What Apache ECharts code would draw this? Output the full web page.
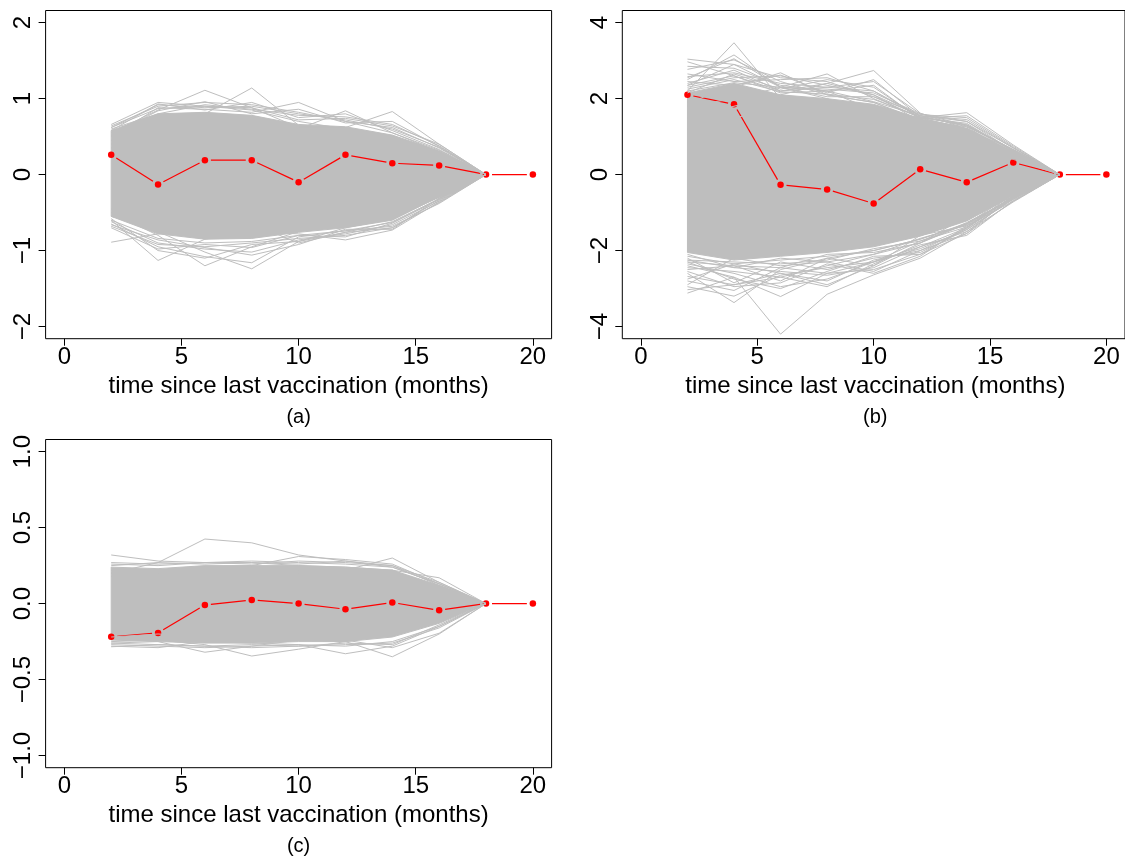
<!DOCTYPE html>
<html>
<head>
<meta charset="utf-8">
<script src="https://cdn.jsdelivr.net/npm/echarts@6/dist/echarts.min.js"></script>
<style>
html,body{margin:0;padding:0;background:#fff;}
#chart{width:1125px;height:858px;}
</style>
</head>
<body>
<div id="chart"></div>
<script>
// ---------- data ----------
const months = [2, 4, 6, 8, 10, 12, 14, 16, 18];
const redMonths = [2, 4, 6, 8, 10, 12, 14, 16, 18, 20];

const redA = [0.26, -0.13, 0.19, 0.19, -0.10, 0.26, 0.15, 0.12, 0, 0];
const redB = [2.10, 1.85, -0.27, -0.39, -0.76, 0.14, -0.20, 0.32, 0, 0];
const redC = [-0.218, -0.193, -0.009, 0.024, 0.0, -0.037, 0.007, -0.044, 0, 0];

// dense grey core of the simulated curves (upper / lower edge)
const bandUpperA = [0.58, 0.80, 0.82, 0.78, 0.66, 0.63, 0.52, 0.31, 0];
const bandLowerA = [-0.55, -0.78, -0.85, -0.84, -0.76, -0.70, -0.60, -0.29, 0];
const bandUpperB = [2.15, 2.40, 2.10, 2.00, 1.85, 1.48, 1.22, 0.60, 0];
const bandLowerB = [-2.05, -2.25, -2.15, -2.05, -1.90, -1.62, -1.22, -0.56, 0];
const bandUpperC = [0.24, 0.23, 0.25, 0.25, 0.25, 0.24, 0.22, 0.12, 0];
const bandLowerC = [-0.24, -0.25, -0.26, -0.26, -0.25, -0.25, -0.22, -0.13, 0];

// individual curves visible at the fringes
const greyA = [
  [0.66, 0.95, 0.90, 0.85, 0.70, 0.60, 0.50, 0.30, 0],
  [0.55, 0.85, 1.11, 0.88, 0.62, 0.52, 0.40, 0.25, 0],
  [0.45, 0.72, 0.80, 1.14, 0.65, 0.55, 0.45, 0.28, 0],
  [0.50, 0.88, 0.86, 0.82, 0.95, 0.70, 0.55, 0.32, 0],
  [0.40, 0.65, 0.75, 0.70, 0.60, 0.84, 0.55, 0.30, 0],
  [0.35, 0.60, 0.70, 0.65, 0.62, 0.62, 0.83, 0.40, 0],
  [0.62, 0.92, 0.88, 0.90, 0.80, 0.72, 0.60, 0.36, 0],
  [0.60, 0.80, 0.92, 0.86, 0.78, 0.76, 0.66, 0.38, 0],
  [0.64, 0.90, 0.95, 0.92, 0.82, 0.70, 0.62, 0.35, 0],
  [0.58, 0.93, 0.85, 0.95, 0.75, 0.80, 0.58, 0.33, 0],
  [0.52, 0.84, 0.96, 0.80, 0.86, 0.68, 0.70, 0.37, 0],
  [0.62, 0.87, 0.90, 0.88, 0.72, 0.74, 0.64, 0.40, 0],
  [-0.60, -1.13, -0.85, -0.75, -0.70, -0.60, -0.50, -0.30, 0],
  [-0.50, -0.80, -1.20, -0.95, -0.75, -0.62, -0.52, -0.28, 0],
  [-0.45, -0.75, -1.02, -1.24, -0.88, -0.70, -0.58, -0.30, 0],
  [-0.89, -0.78, -0.72, -0.65, -0.90, -0.76, -0.62, -0.32, 0],
  [-0.55, -0.70, -0.80, -0.75, -0.78, -0.86, -0.73, -0.36, 0],
  [-0.65, -0.95, -1.08, -1.16, -0.82, -0.74, -0.68, -0.38, 0],
  [-0.68, -0.92, -0.95, -0.90, -0.84, -0.80, -0.70, -0.34, 0],
  [-0.62, -0.90, -0.98, -1.02, -0.86, -0.78, -0.66, -0.35, 0],
  [-0.70, -0.98, -0.92, -0.96, -0.80, -0.82, -0.64, -0.33, 0],
  [-0.58, -1.00, -1.10, -0.92, -0.88, -0.76, -0.70, -0.37, 0],
  [-0.66, -0.86, -0.96, -1.06, -0.92, -0.72, -0.72, -0.31, 0],
  [-0.60, -0.84, -0.90, -0.88, -0.80, -0.74, -0.63, -0.32, 0]
];
const greyB = [
  [3.04, 2.90, 2.30, 2.00, 1.60, 1.25, 1.00, 0.50, 0],
  [2.97, 2.60, 2.20, 2.40, 2.10, 1.40, 1.10, 0.55, 0],
  [2.20, 3.47, 2.00, 1.80, 1.50, 1.10, 0.90, 0.40, 0],
  [2.50, 3.15, 2.30, 2.20, 1.70, 1.30, 1.10, 0.50, 0],
  [2.77, 3.02, 2.45, 2.10, 1.90, 1.40, 1.20, 0.60, 0],
  [1.90, 2.30, 2.68, 2.10, 1.90, 1.45, 1.05, 0.60, 0],
  [1.80, 2.00, 2.30, 2.65, 2.00, 1.50, 1.20, 0.55, 0],
  [1.50, 1.80, 2.10, 2.40, 2.74, 1.62, 1.20, 0.65, 0],
  [1.20, 1.50, 1.70, 1.60, 1.70, 1.50, 1.63, 0.78, 0],
  [2.58, 2.68, 2.40, 2.30, 2.20, 1.55, 1.40, 0.70, 0],
  [2.40, 2.75, 2.20, 2.30, 2.45, 1.60, 1.30, 0.65, 0],
  [2.30, 2.55, 2.60, 2.35, 2.10, 1.55, 1.45, 0.70, 0],
  [2.65, 2.45, 2.50, 2.55, 2.20, 1.50, 1.35, 0.60, 0],
  [2.85, 2.80, 2.35, 2.20, 2.35, 1.45, 1.25, 0.55, 0],
  [2.35, 2.90, 2.55, 2.45, 2.05, 1.58, 1.50, 0.72, 0],
  [2.45, 2.35, 2.62, 2.15, 2.50, 1.52, 1.30, 0.66, 0],
  [2.15, 2.65, 2.25, 2.50, 2.30, 1.48, 1.55, 0.75, 0],
  [2.55, 3.05, 2.30, 2.25, 2.15, 1.60, 1.40, 0.62, 0],
  [2.25, 2.50, 2.18, 2.12, 1.98, 1.52, 1.28, 0.63, 0],
  [2.20, 2.42, 2.30, 2.05, 2.05, 1.50, 1.32, 0.64, 0],
  [2.35, 2.60, 2.15, 2.20, 1.92, 1.55, 1.26, 0.66, 0],
  [-2.40, -2.70, -4.20, -3.15, -2.64, -2.20, -1.50, -0.60, 0],
  [-2.60, -3.37, -2.50, -2.20, -2.00, -1.70, -1.30, -0.50, 0],
  [-3.12, -2.70, -3.21, -2.60, -2.30, -1.90, -1.40, -0.50, 0],
  [-3.03, -2.90, -2.60, -2.90, -2.40, -1.80, -1.30, -0.60, 0],
  [-2.90, -2.20, -2.40, -2.30, -2.55, -2.00, -1.55, -0.55, 0],
  [-2.68, -2.90, -2.70, -2.40, -2.10, -1.80, -1.10, -0.40, 0],
  [-2.20, -2.85, -2.30, -2.50, -2.20, -2.05, -1.45, -0.65, 0],
  [-2.50, -2.40, -2.80, -2.20, -2.40, -1.60, -1.35, -0.70, 0],
  [-2.35, -2.60, -2.95, -2.75, -2.30, -1.95, -1.45, -0.62, 0],
  [-2.80, -3.05, -2.45, -2.60, -2.50, -2.10, -1.40, -0.55, 0],
  [-2.45, -2.55, -2.70, -2.95, -2.35, -1.85, -1.60, -0.68, 0],
  [-2.55, -2.95, -2.85, -2.35, -2.60, -2.15, -1.35, -0.60, 0],
  [-2.25, -2.45, -2.55, -2.65, -2.45, -1.90, -1.50, -0.72, 0],
  [-2.75, -2.35, -2.60, -2.80, -2.25, -2.00, -1.42, -0.58, 0],
  [-2.95, -3.20, -2.65, -2.45, -2.30, -1.75, -1.38, -0.65, 0],
  [-2.30, -2.75, -3.00, -2.55, -2.15, -2.10, -1.55, -0.70, 0],
  [-2.15, -2.35, -2.25, -2.15, -2.00, -1.70, -1.28, -0.60, 0],
  [-2.25, -2.30, -2.35, -2.25, -1.95, -1.75, -1.30, -0.62, 0],
  [-2.10, -2.45, -2.20, -2.30, -2.10, -1.68, -1.33, -0.58, 0],
  [-2.30, -2.40, -2.45, -2.10, -2.05, -1.80, -1.26, -0.64, 0]
];
const greyC = [
  [0.20, 0.27, 0.425, 0.40, 0.32, 0.28, 0.25, 0.12, 0],
  [0.32, 0.28, 0.27, 0.27, 0.25, 0.24, 0.22, 0.10, 0],
  [0.22, 0.20, 0.24, 0.25, 0.31, 0.29, 0.26, 0.13, 0],
  [0.20, 0.22, 0.23, 0.22, 0.22, 0.22, 0.30, 0.14, 0],
  [0.18, 0.20, 0.20, 0.18, 0.20, 0.20, 0.22, 0.17, 0],
  [0.27, 0.26, 0.27, 0.28, 0.27, 0.26, 0.24, 0.13, 0],
  [0.26, 0.25, 0.27, 0.26, 0.28, 0.27, 0.25, 0.14, 0],
  [0.25, 0.27, 0.26, 0.27, 0.26, 0.28, 0.24, 0.13, 0],
  [-0.25, -0.24, -0.27, -0.345, -0.30, -0.25, -0.20, -0.10, 0],
  [-0.28, -0.29, -0.25, -0.26, -0.27, -0.33, -0.28, -0.15, 0],
  [-0.26, -0.25, -0.32, -0.28, -0.24, -0.25, -0.35, -0.20, 0],
  [-0.22, -0.20, -0.22, -0.23, -0.22, -0.24, -0.29, -0.195, 0],
  [-0.284, -0.27, -0.28, -0.27, -0.28, -0.27, -0.26, -0.16, 0],
  [-0.27, -0.28, -0.29, -0.28, -0.27, -0.28, -0.25, -0.15, 0],
  [-0.26, -0.27, -0.28, -0.29, -0.28, -0.26, -0.27, -0.14, 0]
];

const xTicks = [0, 5, 10, 15, 20];
const yTicksA = [-2, -1, 0, 1, 2];
const yTicksB = [-4, -2, 0, 2, 4];
const yTicksC = [-1.0, -0.5, 0.0, 0.5, 1.0];

const xLabel = 'time since last vaccination (months)';
const panelTags = ['(a)', '(b)', '(c)'];

// ---------- style ----------
const FONT = "'Liberation Sans', Arial, Helvetica, sans-serif";
const GREY = '#BEBEBE';
const RED = '#FF0000';

const chart = echarts.init(document.getElementById('chart'), null, {renderer: 'canvas'});

const grids = [
  {left: 45.6, top: 10.5, width: 506, height: 328.2},
  {left: 622.3, top: 10.5, width: 506, height: 328.2},
  {left: 45.6, top: 439.5, width: 506, height: 328.2}
];

function minusFmt(dec) {
  return function (v) {
    const s = dec ? Math.abs(v).toFixed(dec) : String(Math.abs(v));
    return (v < 0 ? '\u2212' : '') + s;
  };
}

function xAxisFor(i) {
  return {
    type: 'value', gridIndex: i, min: -0.8, max: 20.8, position: 'bottom',
    axisLine: {show: false, onZero: false}, splitLine: {show: false},
    axisTick: {show: true, length: 7, customValues: xTicks, lineStyle: {color: '#000', width: 1}},
    axisLabel: {customValues: xTicks, margin: 7, color: '#000', fontSize: 24, fontFamily: FONT}
  };
}
function yAxisFor(i, lim, ticks, dec) {
  return {
    type: 'value', gridIndex: i, min: -lim, max: lim, position: 'left',
    axisLine: {show: false, onZero: false}, splitLine: {show: false},
    axisTick: {show: true, length: 7, customValues: ticks, lineStyle: {color: '#000', width: 1}},
    axisLabel: {customValues: ticks, rotate: 90, margin: 10, color: '#000', fontSize: 24,
      fontFamily: FONT, formatter: minusFmt(dec)}
  };
}

function bandSeries(i, upper, lower) {
  return {
    type: 'custom', xAxisIndex: i, yAxisIndex: i, silent: true,
    data: [[months[0], 0]],
    renderItem: function (params, api) {
      const pts = [];
      for (let k = 0; k < months.length; k++) pts.push(api.coord([months[k], upper[k]]));
      for (let k = months.length - 1; k >= 0; k--) pts.push(api.coord([months[k], lower[k]]));
      return {type: 'polygon', shape: {points: pts},
        style: {fill: GREY, stroke: GREY, lineWidth: 1}};
    }
  };
}
function greySeries(i, lines) {
  return lines.map(function (ys) {
    return {
      type: 'line', xAxisIndex: i, yAxisIndex: i, silent: true,
      data: months.map(function (m, k) { return [m, ys[k]]; }),
      showSymbol: false, symbol: 'none',
      lineStyle: {color: GREY, width: 1}
    };
  });
}
function redSegSeries(i, ys) {
  const gap = 6;
  return {
    type: 'custom', xAxisIndex: i, yAxisIndex: i, silent: true,
    data: redMonths.map(function (m, k) { return [m, ys[k]]; }),
    renderItem: function (params, api) {
      const k = params.dataIndex;
      if (k >= redMonths.length - 1) return;
      const p0 = api.coord([redMonths[k], ys[k]]);
      const p1 = api.coord([redMonths[k + 1], ys[k + 1]]);
      const dx = p1[0] - p0[0], dy = p1[1] - p0[1];
      const len = Math.sqrt(dx * dx + dy * dy);
      if (len <= 2 * gap) return;
      const ux = dx / len, uy = dy / len;
      return {type: 'line',
        shape: {x1: p0[0] + ux * gap, y1: p0[1] + uy * gap, x2: p1[0] - ux * gap, y2: p1[1] - uy * gap},
        style: {stroke: RED, lineWidth: 1.2}};
    }
  };
}
function redPointSeries(i, ys) {
  return {
    type: 'scatter', xAxisIndex: i, yAxisIndex: i, silent: true,
    data: redMonths.map(function (m, k) { return [m, ys[k]]; }),
    symbol: 'circle', symbolSize: 6.5,
    itemStyle: {color: RED, borderWidth: 0, opacity: 1}
  };
}

const series = [].concat(
  [bandSeries(0, bandUpperA, bandLowerA)], greySeries(0, greyA), [redSegSeries(0, redA), redPointSeries(0, redA)],
  [bandSeries(1, bandUpperB, bandLowerB)], greySeries(1, greyB), [redSegSeries(1, redB), redPointSeries(1, redB)],
  [bandSeries(2, bandUpperC, bandLowerC)], greySeries(2, greyC), [redSegSeries(2, redC), redPointSeries(2, redC)]
);

function txt(x, y, s, size) {
  return {type: 'text', x: x, y: y, silent: true,
    style: {text: s, fill: '#000', font: size + 'px ' + FONT, textAlign: 'center', textVerticalAlign: 'middle'}};
}
const centers = grids.map(function (g) { return g.left + g.width / 2; });
const bottoms = grids.map(function (g) { return g.top + g.height; });

chart.setOption({
  animation: false,
  backgroundColor: '#fff',
  grid: grids.map(function (g) {
    return Object.assign({show: true, borderColor: '#000', borderWidth: 1, backgroundColor: 'transparent'}, g);
  }),
  xAxis: [xAxisFor(0), xAxisFor(1), xAxisFor(2)],
  yAxis: [yAxisFor(0, 2.16, yTicksA, 0), yAxisFor(1, 4.32, yTicksB, 0), yAxisFor(2, 1.08, yTicksC, 1)],
  series: series,
  graphic: [0, 1, 2].map(function (i) {
    return [txt(centers[i], bottoms[i] + 47.5, xLabel, 24), txt(centers[i], bottoms[i] + 78.5, panelTags[i], 20)];
  }).reduce(function (a, b) { return a.concat(b); }, [])
});
</script>
</body>
</html>
